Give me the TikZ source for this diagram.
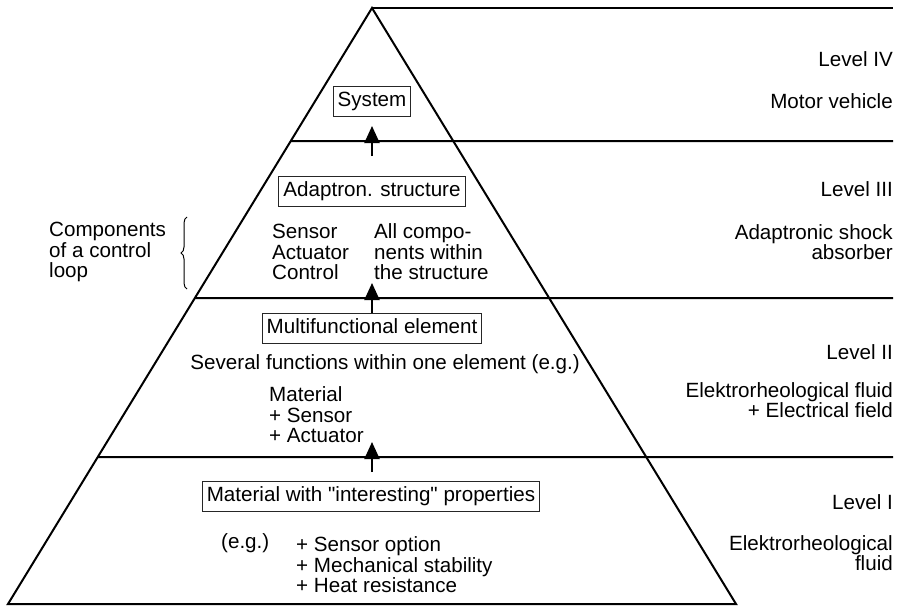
\documentclass[tikz,border=0pt]{standalone}
\usepackage{fontspec}
\setmainfont{Liberation Sans}
\newfontfamily\straightq{Liberation Sans}
\usetikzlibrary{arrows.meta,calc,decorations.pathreplacing}

\begin{document}
\begin{tikzpicture}[x=1pt,y=-1pt,
  font=\fontsize{20.6}{20.6}\selectfont,
  frame/.style={draw=black!85,line width=1pt,inner xsep=4.5pt,inner ysep=5.5pt,
    text height=14.5pt,text depth=4.5pt},
  txt/.style={align=left,inner sep=0pt,anchor=west},
  rtxt/.style={align=right,inner sep=0pt,anchor=east},
  level/.style={line width=2pt},
  uparrow/.style={-{Triangle[length=17pt,width=15pt]},line width=2pt}]
  \useasboundingbox (0,0) rectangle (899,607);

  % Pyramid
  \coordinate (apex) at (372,8);
  \coordinate (bl) at (8,604);
  \coordinate (br) at (736,604);
  \draw[level] (bl) -- (apex) -- (br) -- cycle;

  % Level lines
  \coordinate (top) at (893,8);
  \draw[level] (apex) -- (top);
  \foreach \t/\y in {0.2232/141,0.4866/298,0.7534/457}
    \draw[level] ($(apex)!\t!(bl)$) -- (893,\y);

  % Boxes
  \node[frame] (sys) at (372,102) {System};
  \node[frame] (adapt) at (372,191) {Adaptron. structure};
  \node[frame] (multi) at (372,328) {Multifunctional element};
  \node[frame] (mat) at (371,496) {Material with {\straightq"}interesting{\straightq"} properties};

  % Arrows between the levels
  \foreach \n/\y in {1/141,2/298,3/457} {
    \coordinate (tail\n) at (372,\y+15);
    \coordinate (head\n) at (372,\y-15);
    \draw[uparrow] (tail\n) -- (head\n);
  }

  % Texts inside
  \node[txt] (sens) at (272,252) {Sensor\\Actuator\\Control};
  \node[txt] (allc) at (374,252) {All compo-\\nents within\\the structure};
  \node[rtxt] (sev) at (580,364) {Several functions within one element (e.g.)};
  \node[txt] (matl) at (269,415) {Material\\+ Sensor\\+ Actuator};
  \node[txt] (eg) at (221,543) {(e.g.)};
  \node[txt] (prop) at (296,565) {+ Sensor option\\+ Mechanical stability\\+ Heat resistance};

  % Control loop brace
  \node[txt] (ctrl) at (49,252) {Components\\of a control\\loop};
  \coordinate (brb) at (187,289);
  \coordinate (brt) at (187,217);
  \draw[decorate,decoration={brace,amplitude=6pt},line width=1pt] (brb) -- (brt);

  % Levels
  \node[rtxt] (l4) at (893,59) {Level IV};
  \node[rtxt] (l4x) at (893,101) {Motor vehicle};
  \node[rtxt] (l3) at (893,189) {Level III};
  \node[rtxt] (l3x) at (893,242) {Adaptronic shock\\absorber};
  \node[rtxt] (l2) at (893,352) {Level II};
  \node[rtxt] (l2x) at (893,400) {Elektrorheological fluid\\+ Electrical field};
  \node[rtxt] (l1) at (893,502) {Level I};
  \node[rtxt] (l1x) at (893,553) {Elektrorheological\\fluid};
\end{tikzpicture}
\end{document}
